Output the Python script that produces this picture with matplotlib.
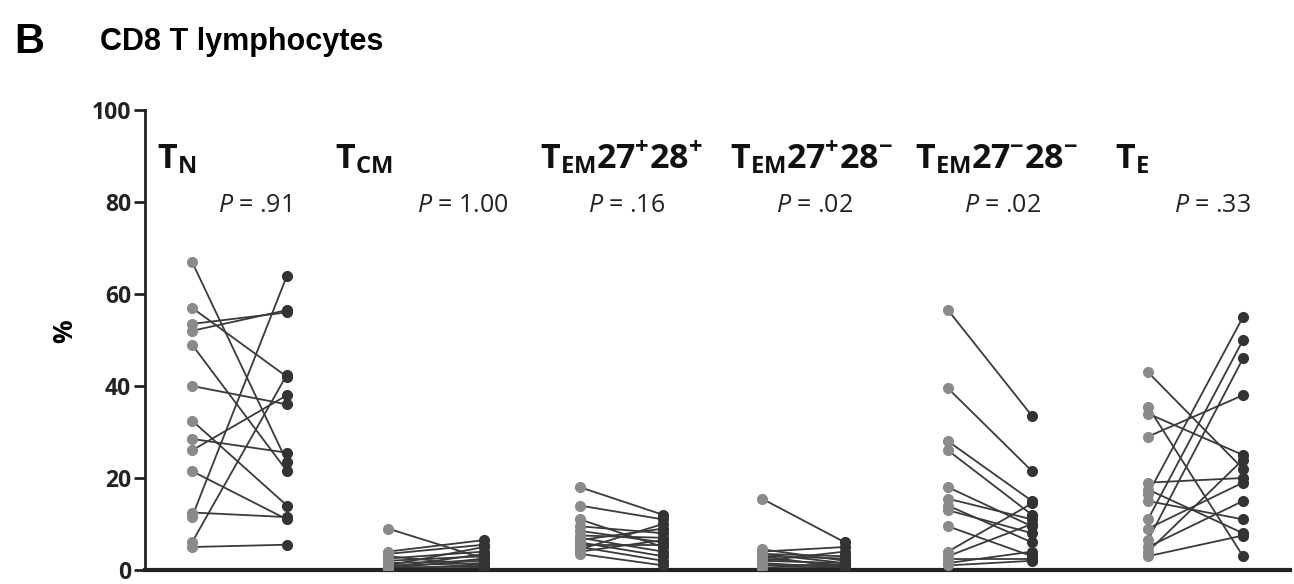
import matplotlib
matplotlib.use("Agg")
import matplotlib.pyplot as plt

plt.rcParams['font.family'] = ['Open Sans', 'DejaVu Sans']
plt.rcParams['mathtext.fontset'] = 'custom'
plt.rcParams['mathtext.rm'] = 'Open Sans:bold'
plt.rcParams['mathtext.bf'] = 'Open Sans:bold'
plt.rcParams['mathtext.it'] = 'Open Sans:italic'
plt.rcParams['mathtext.default'] = 'bf'

# ---- data ----
groups = ["T$_{N}$", "T$_{CM}$", "T$_{EM}$27$^{+}$28$^{+}$",
          "T$_{EM}$27$^{+}$28$^{-}$", "T$_{EM}$27$^{-}$28$^{-}$", "T$_{E}$"]
pvalues = ["= .91", "= 1.00", "= .16", "= .02", "= .02", "= .33"]

tn_before = [67, 57, 53.5, 52, 49, 40, 32.5, 28.5, 26, 21.5, 12.5, 11.5, 6, 5]
tn_after = [23.5, 42, 56, 56.5, 21.5, 36, 14, 25.5, 38, 11, 11.5, 64, 42.5, 5.5]

tcm_before = [9, 4, 3.5, 3, 2.5, 2, 1.5, 1, 1, 0.5, 0.5, 0.3, 0.2, 0.1]
tcm_after = [2.5, 6.5, 5.5, 1, 4, 3, 2, 1.5, 5, 3.5, 0.8, 2.5, 1.2, 0.5]

tem_pp_before = [18, 14, 11, 9.5, 8.5, 7.5, 7, 6.5, 6, 5.5, 5, 4.5, 4, 3.5]
tem_pp_after = [12, 11, 5, 8, 6, 7, 4, 9, 3, 5.5, 2, 10, 6.5, 1]

tem_pm_before = [15.5, 4.5, 4, 3.5, 3.5, 3, 3, 2.5, 2, 2, 1.5, 1, 1, 0.5]
tem_pm_after = [6, 2, 5, 1.5, 3, 0.5, 2.5, 1, 4, 1.5, 0.5, 1, 0.3, 0.2]

tem_mm_before = [56.5, 39.5, 28, 26, 18, 15.5, 14, 13, 9.5, 4, 3, 2.5, 1.5, 1]
tem_mm_after = [33.5, 21.5, 15, 12, 9.5, 11, 6, 8, 3, 14.5, 10, 2.5, 4, 2]

te_before = [43, 35.5, 34, 29, 19, 17.5, 16.5, 15, 11, 9, 6.5, 5, 4, 3]
te_after = [22, 3, 25, 38, 20, 8, 55, 11, 50, 19, 46, 15, 24, 7.5]

before = [tn_before, tcm_before, tem_pp_before, tem_pm_before, tem_mm_before, te_before]
after = [tn_after, tcm_after, tem_pp_after, tem_pm_after, tem_mm_after, te_after]

yticks = [0, 20, 40, 60, 80, 100]

# ---- layout ----
W, H = 1294, 584
fig = plt.figure(figsize=(W / 100, H / 100), dpi=100)
ax_l, ax_r, ax_b, ax_t = 145, 1290, 570, 110
ax = fig.add_axes([ax_l / W, 1 - ax_b / H, (ax_r - ax_l) / W, (ax_b - ax_t) / H])
ax.set_xlim(0, ax_r - ax_l)
ax.set_ylim(0, 100)

left_x = [47, 243, 435, 617, 803, 1003]
right_x = [142, 339, 518, 700, 887, 1098]
title_x = [12, 190, 395, 585, 770, 970]
p_x = [110, 318, 482, 670, 858, 1068]

line_col = '#3a3a3a'
for i in range(len(groups)):
    for b, a in zip(before[i], after[i]):
        ax.plot([left_x[i], right_x[i]], [b, a], color=line_col, lw=1.3, zorder=2)
    ax.plot([left_x[i]] * len(before[i]), before[i], 'o', color='#8a8a8a',
            ms=7, zorder=3)
    ax.plot([right_x[i]] * len(after[i]), after[i], 'o', color='#333333',
            ms=7, zorder=3)
    ax.text(title_x[i], 87.3, groups[i], fontsize=24.5, color='#111111',
            ha='left', va='baseline', fontweight='bold')
    ax.text(p_x[i], 79.3, "$\\mathit{P}$ " + pvalues[i], fontsize=18,
            color='#222222', ha='center', va='center', fontweight='normal')

for s in ['top', 'right']:
    ax.spines[s].set_visible(False)
ax.spines['left'].set_linewidth(2)
ax.spines['bottom'].set_linewidth(3)
ax.spines['left'].set_color('#222222')
ax.spines['bottom'].set_color('#222222')
ax.set_xticks([])
ax.set_yticks(yticks)
ax.tick_params(axis='y', length=8, width=2, color='#222222', labelsize=16.5,
               pad=2)
for lab in ax.get_yticklabels():
    lab.set_fontweight('bold')
    lab.set_color('#222222')
ax.set_ylabel('%', fontsize=19, fontweight='bold')
ax.yaxis.set_label_coords((78 - ax_l) / (ax_r - ax_l), 0.52)

fig.text(14 / W, 1 - 42 / H, 'B', fontsize=30, fontweight='bold',
         va='center', ha='left', family='Liberation Sans')
fig.text(100 / W, 1 - 42 / H, 'CD8 T lymphocytes', fontsize=22,
         fontweight='bold', va='center', ha='left', family='Liberation Sans')

fig.savefig('out.png', dpi=100)
